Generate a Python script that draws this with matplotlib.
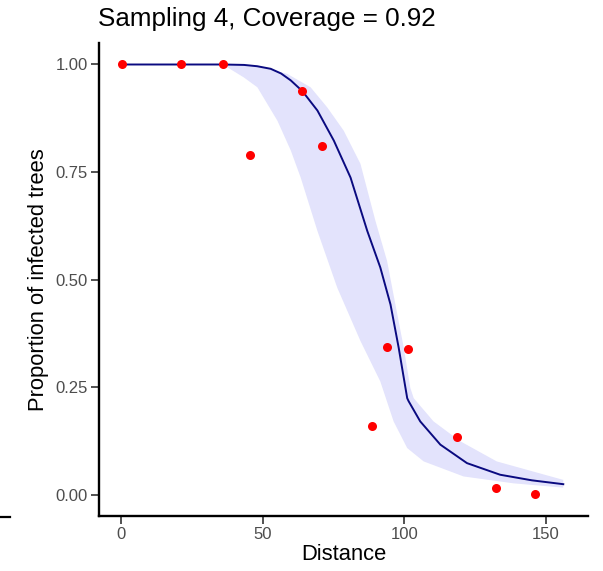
import matplotlib
matplotlib.use("Agg")
import matplotlib.pyplot as plt
from matplotlib.lines import Line2D

plt.rcParams['font.family'] = ['Liberation Sans', 'DejaVu Sans']

# observed data
dist = [0.2, 21.2, 35.9, 45.6, 63.8, 70.8, 88.5, 93.9, 101.4, 118.7, 132.3, 146.0]
prop = [1.0, 1.0, 1.0, 0.789, 0.938, 0.810, 0.160, 0.344, 0.339, 0.133, 0.015, 0.001]

# fitted curve
fit_x = [0, 35.9, 43.4, 48.0, 52.8, 56.5, 59.9, 64.0, 69.3, 75.1, 81.0, 86.9, 91.5, 95.1, 98.0,
         101.0, 101.5, 105.6, 112.7, 122.1, 133.8, 145.0, 156.1]
fit_y = [1.0, 1.0, 0.999, 0.996, 0.990, 0.979, 0.963, 0.938, 0.893, 0.823, 0.737, 0.613, 0.528,
         0.442, 0.341, 0.224, 0.217, 0.170, 0.116, 0.073, 0.046, 0.033, 0.024]

# confidence band
up_x = [0, 35.9, 48.1, 58.7, 66.9, 72.8, 78.6, 84.5, 89.8, 93.9, 96.8, 99.8, 102.1, 103.3,
        110.3, 119.7, 132.6, 156.1]
up_y = [1.0, 1.0, 0.998, 0.978, 0.947, 0.900, 0.846, 0.769, 0.636, 0.543, 0.443, 0.341, 0.248,
        0.224, 0.170, 0.124, 0.077, 0.034]
lo_x = [0, 35.9, 43.3, 48.1, 55.2, 59.9, 63.4, 69.3, 76.3, 84.5, 91.5, 96.2, 101.0, 106.8,
        120.9, 138.5, 156.1]
lo_y = [1.0, 1.0, 0.970, 0.947, 0.869, 0.800, 0.737, 0.613, 0.481, 0.357, 0.263, 0.170, 0.108,
        0.077, 0.042, 0.026, 0.016]

title = "Sampling 4, Coverage = 0.92"
xlabel = "Distance"
ylabel = "Proportion of infected trees"
xticks = [0, 50, 100, 150]
yticks = [0.0, 0.25, 0.5, 0.75, 1.0]
yticklabels = ["0.00", "0.25", "0.50", "0.75", "1.00"]

fig = plt.figure(figsize=(6.03, 5.71), dpi=100)
ax = fig.add_axes([0.1642, 0.0963, 0.975 - 0.1642, 0.9247 - 0.0963])

poly_x = up_x + lo_x[::-1]
poly_y = up_y + lo_y[::-1]
ax.fill(poly_x, poly_y, color='#E3E3FC', lw=0, zorder=1)
ax.plot(fit_x, fit_y, color='#0A0A80', lw=1.4, zorder=2)
ax.plot(dist, prop, 'o', color='#FF0000', ms=6.5, mec='none', zorder=3)

ax.set_xlim(-7.8, 164.8)
ax.set_ylim(-0.05, 1.05)
ax.set_xticks(xticks)
ax.set_yticks(yticks)
ax.set_yticklabels(yticklabels)
for s in ['top', 'right']:
    ax.spines[s].set_visible(False)
for s in ['left', 'bottom']:
    ax.spines[s].set_linewidth(1.7)
    ax.spines[s].set_color('black')
ax.tick_params(axis='both', length=5.5, width=1.2, color='#333333', labelcolor='#4D4D4D',
               labelsize=12, pad=2.5)
ax.set_xlabel(xlabel, fontsize=15.8, color='black', labelpad=1)
ax.set_ylabel(ylabel, fontsize=15.8, color='black', labelpad=5)
fig.text(0.163, 0.955, title, fontsize=18.7, color='black', ha='left', va='baseline')

fig.add_artist(Line2D([0.0, 0.017], [1 - 517 / 571, 1 - 517 / 571], color='black', lw=1.6,
                      transform=fig.transFigure))

fig.savefig('out.png', dpi=100)
